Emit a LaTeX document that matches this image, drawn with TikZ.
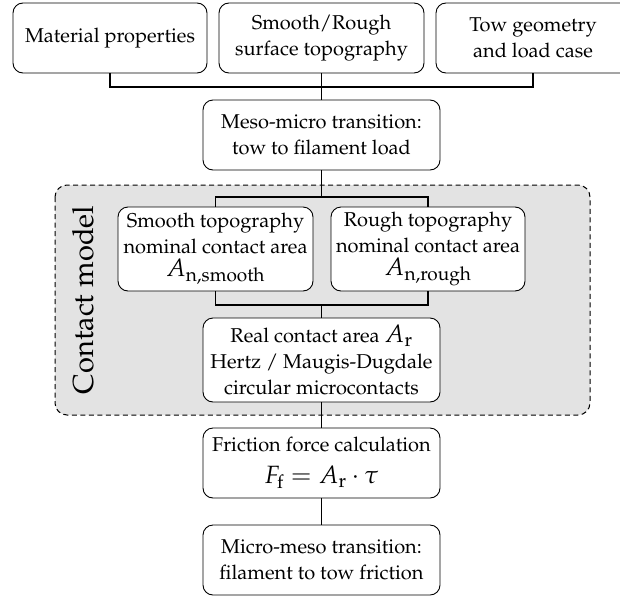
\documentclass[tikz,border=0pt]{standalone}
\usepackage[T1]{fontenc}
\usepackage{mathpazo}
\newcommand{\mymath}[1]{{\fontsize{25}{28}\selectfont$#1$}}
\begin{document}
\begin{tikzpicture}[x=1pt,y=-1pt,
  box/.style={draw=black,fill=white,line width=0.9pt,rounded corners=10pt,align=center,
    inner sep=2pt,font=\fontsize{20}{26}\selectfont,minimum height=70pt},
  conn/.style={draw=black,line width=1.4pt},
  group/.style={draw=black,line width=1pt,dash pattern=on 5pt off 3.5pt,
    rounded corners=12pt,fill=black!11}]
\clip (0,0) rectangle (620,597);
% group background
\path[group] (55,185) rectangle (590,415);
\node[rotate=90,font=\fontsize{29}{35}\selectfont] (cm) at (83,300) {Contact model};
% top inputs
\node[box,minimum width=194pt] (m1) at (110,38) {Material properties};
\node[box,minimum width=205pt] (m2) at (321.5,38) {Smooth/Rough\\surface topography};
\node[box,minimum width=194pt] (m3) at (533,38) {Tow geometry\\and load case};
\node[box,minimum width=237pt] (meso) at (321.5,135) {Meso-micro transition:\\tow to filament load};
\node[box,minimum width=195pt,minimum height=84pt] (smooth) at (215.5,249)
  {Smooth topography\\nominal contact area\\[-3pt]\mymath{A_{\mathrm{n,smooth}}}};
\node[box,minimum width=194pt,minimum height=84pt] (rough) at (428,249)
  {Rough topography\\nominal contact area\\[-3pt]\mymath{A_{\mathrm{n,rough}}}};
\node[box,minimum width=237pt,minimum height=84pt] (real) at (321.5,360)
  {Real contact area \mymath{A_{\mathrm{r}}}\\Hertz / Maugis-Dugdale\\circular microcontacts};
\node[box,minimum width=237pt] (fric) at (321.5,463)
  {Friction force calculation\\[6pt]\mymath{F_{\mathrm{f}} = A_{\mathrm{r}}\cdot\tau}};
\node[box,minimum width=237pt] (micro) at (321.5,560)
  {Micro-meso transition:\\filament to tow friction};
% connectors
\coordinate (j0) at (321.5,87);
\coordinate (j1) at (321.5,197);
\coordinate (j2) at (321.5,305);
\draw[conn] (m1.south) |- (j0) -| (m3.south);
\draw[conn] (m2.south) -- (meso.north);
\draw[conn] (meso.south) -- (j1);
\draw[conn] (smooth.north) |- (j1) -| (rough.north);
\draw[conn] (smooth.south) |- (j2) -| (rough.south);
\draw[conn] (j2) -- (real.north);
\draw[conn] (real.south) -- (fric.north);
\draw[conn] (fric.south) -- (micro.north);
\end{tikzpicture}
\end{document}
